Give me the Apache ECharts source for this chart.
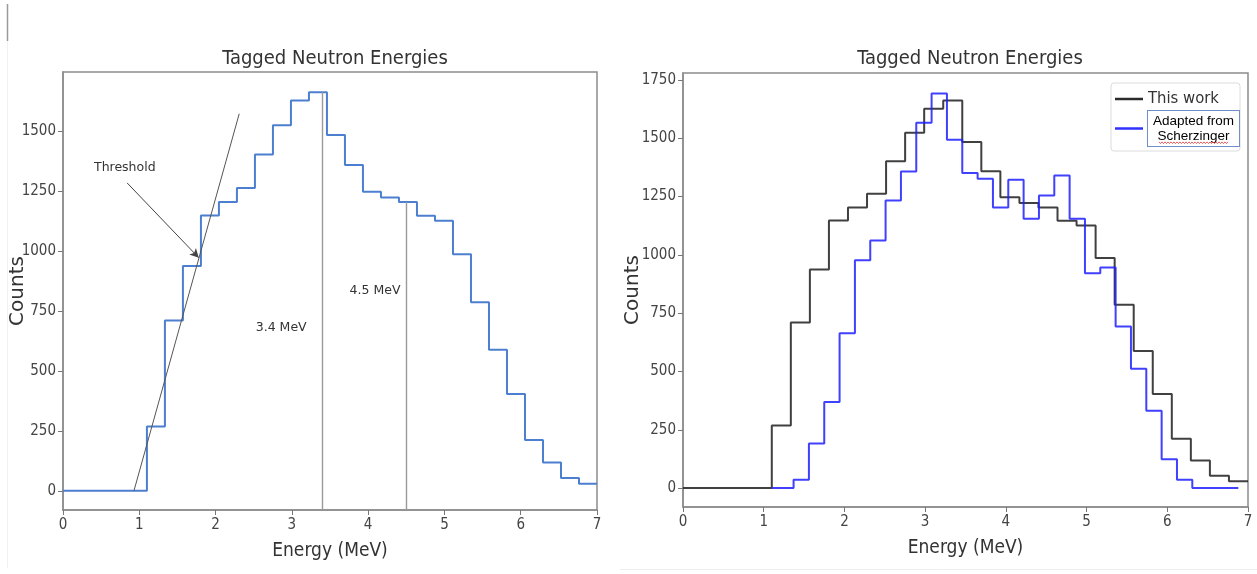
<!DOCTYPE html>
<html>
<head>
<meta charset="utf-8">
<script src="https://cdn.jsdelivr.net/npm/echarts@6/dist/echarts.min.js"></script>
<style>
  html, body { margin: 0; padding: 0; background: #fff; }
  #chart { width: 1257px; height: 574px; }
</style>
</head>
<body>
<div id="chart"></div>
<script>
// "This work" tagged-neutron spectrum: uniform bins starting at 1.1 MeV
const workStart = 1.1;
const workWidth = 0.236;
const workCounts = [268, 710, 937, 1147, 1203, 1262, 1401, 1523, 1626, 1661,
                    1483, 1358, 1246, 1222, 1203, 1146, 1125, 986, 786, 588,
                    403, 212, 118, 53, 29];

// Spectrum adapted from Scherzinger: bin edges (MeV) and counts
const scherEdges = [1.10, 1.37, 1.56, 1.75, 1.94, 2.13, 2.32, 2.51, 2.70, 2.89,
                    3.08, 3.27, 3.46, 3.65, 3.84, 4.03, 4.22, 4.41, 4.60, 4.79,
                    4.98, 5.17, 5.36, 5.55, 5.74, 5.93, 6.12, 6.31, 6.50, 6.69, 6.88];
const scherCounts = [0, 36, 191, 369, 664, 976, 1061, 1233, 1357, 1566,
                     1691, 1493, 1350, 1326, 1203, 1322, 1154, 1254, 1340, 1154,
                     921, 945, 693, 511, 331, 124, 36, 0, 0, 0];

// Axis ticks
const energyTicks = [0, 1, 2, 3, 4, 5, 6, 7];
const countTicksLeft = [0, 250, 500, 750, 1000, 1250, 1500];
const countTicksRight = [0, 250, 500, 750, 1000, 1250, 1500, 1750];

// Annotations on the left panel
const markerEnergies = [3.4, 4.5];
const markerLabels = ['3.4 MeV', '4.5 MeV'];
const markerLabelPos = [[2.86, 679], [4.09, 833]];
const thresholdFit = [[0.93, 0], [2.31, 1571]];
const thresholdArrow = [[0.84, 1283], [1.78, 971]];
const thresholdLabelPos = [0.81, 1346];

const workEdges = workCounts.map((_, i) => +(workStart + i * workWidth).toFixed(4))
  .concat([+(workStart + workCounts.length * workWidth).toFixed(4)]);

// Turn edges + counts into a step outline, optionally led in from zero at x=0
function stepOutline(edges, counts, leadIn) {
  const pts = leadIn ? [[0, 0], [edges[0], 0]] : [];
  counts.forEach((c, i) => {
    pts.push([edges[i], c]);
    pts.push([edges[i + 1], c]);
  });
  return pts;
}

function countAt(edges, counts, x) {
  for (let i = 0; i < counts.length; i++) {
    if (x >= edges[i] && x < edges[i + 1]) return counts[i];
  }
  return 0;
}

const COND = '"DejaVu Sans Condensed", "Liberation Sans Narrow", "DejaVu Sans", sans-serif';
const REG = '"DejaVu Sans", sans-serif';
const yMinL = -80, yMaxL = 1745;
const yMinR = -81, yMaxR = 1779;

function energyAxis(gridIndex) {
  return {
    type: 'value', gridIndex, min: 0, max: 7, interval: 1,
    axisLine: { show: true, onZero: false, lineStyle: { color: '#8c8c8c', width: 1.5 } },
    axisTick: { show: true, length: 5, customValues: energyTicks, lineStyle: { color: '#777', width: 1 } },
    axisLabel: { color: '#444', fontSize: 15, fontFamily: COND, margin: 8,
                 customValues: energyTicks, formatter: v => String(v) },
    splitLine: { show: false },
    name: 'Energy (MeV)', nameLocation: 'middle', nameGap: 32, nameMoveOverlap: false,
    nameTextStyle: { color: '#333', fontSize: 19, fontFamily: COND }
  };
}

function countAxis(gridIndex, min, max, ticks, gap) {
  return {
    type: 'value', gridIndex, min, max,
    axisLine: { show: true, onZero: false, lineStyle: { color: '#8c8c8c', width: 1.5 } },
    axisTick: { show: true, length: 5, customValues: ticks, lineStyle: { color: '#777', width: 1 } },
    axisLabel: { color: '#444', fontSize: 15, fontFamily: COND, margin: 7,
                 customValues: ticks, formatter: v => String(v) },
    splitLine: { show: false },
    name: 'Counts', nameLocation: 'middle', nameGap: gap, nameRotate: 90, nameMoveOverlap: false,
    nameTextStyle: { color: '#333', fontSize: 20, fontFamily: REG }
  };
}

const gridFrame = {
  show: true, borderColor: '#8c8c8c', borderWidth: 1.5, backgroundColor: '#fff',
  containLabel: false, outerBoundsMode: 'none'
};

// Wavy spell-check underline under "Scherzinger"
const wavy = [];
for (let x = 1159; x <= 1229; x += 1.5) {
  wavy.push([x, 142.5 + ((Math.round((x - 1159) / 1.5) % 2) ? 1.1 : -0.6)]);
}

const chart = echarts.init(document.getElementById('chart'), null, { renderer: 'canvas' });

chart.setOption({
  animation: false,
  backgroundColor: '#fff',
  title: [
    { text: 'Tagged Neutron Energies', left: 330, top: 44, textAlign: 'center',
      textStyle: { fontSize: 20, fontWeight: 'normal', color: '#333', fontFamily: COND } },
    { text: 'Tagged Neutron Energies', left: 965, top: 44, textAlign: 'center',
      textStyle: { fontSize: 20, fontWeight: 'normal', color: '#333', fontFamily: COND } }
  ],
  grid: [
    Object.assign({ left: 63, top: 72, width: 534, height: 438 }, gridFrame),
    Object.assign({ left: 683, top: 73, width: 565, height: 434 }, gridFrame)
  ],
  xAxis: [energyAxis(0), energyAxis(1)],
  yAxis: [
    countAxis(0, yMinL, yMaxL, countTicksLeft, 35),
    countAxis(1, yMinR, yMaxR, countTicksRight, 40)
  ],
  legend: {
    left: 1111, top: 83, orient: 'vertical', align: 'left',
    icon: 'rect', itemWidth: 28, itemHeight: 2.5, itemGap: 1,
    padding: [6, 0, 4, 4],
    backgroundColor: '#fff', borderColor: '#dcdcdc', borderWidth: 1, borderRadius: 3,
    data: [
      { name: 'This work',
        textStyle: { fontSize: 16.5, color: '#333', fontFamily: COND, lineHeight: 20 } },
      { name: 'Adapted from Scherzinger',
        textStyle: { borderColor: '#6f90c6', borderWidth: 1, padding: [3, 4, 2, 4], backgroundColor: '#fff',
                     rich: { s: { width: 83, align: 'center', fontSize: 13.5, lineHeight: 15, color: '#000',
                                  fontFamily: '"Liberation Sans", Arial, sans-serif' } } } }
    ],
    formatter: name => name === 'Adapted from Scherzinger' ? '{s|Adapted from}\n{s|Scherzinger}' : name
  },
  series: [
    {
      name: 'Tagged spectrum', type: 'line', xAxisIndex: 0, yAxisIndex: 0,
      data: stepOutline(workEdges, workCounts, true),
      showSymbol: false, symbol: 'none', z: 3,
      lineStyle: { color: '#4c7fd0', width: 2 },
      markLine: {
        silent: true, symbol: ['none', 'none'], label: { show: false },
        data: [
          ...markerEnergies.map(e => [
            { coord: [e, countAt(workEdges, workCounts, e)], lineStyle: { color: '#9a9a9a', width: 1.4, type: 'solid' } },
            { coord: [e, yMinL] }
          ]),
          [
            { coord: thresholdFit[0], lineStyle: { color: '#555', width: 1, type: 'solid' } },
            { coord: thresholdFit[1] }
          ],
          [
            { coord: thresholdArrow[0], symbol: 'none', lineStyle: { color: '#444', width: 1, type: 'solid' } },
            { coord: thresholdArrow[1], symbol: 'arrow', symbolSize: [7, 9] }
          ]
        ]
      },
      markPoint: {
        silent: true, symbol: 'rect', symbolSize: 1,
        itemStyle: { color: 'rgba(0,0,0,0)' },
        label: { show: true, position: 'inside', color: '#333', fontSize: 12.5,
                 fontFamily: REG, formatter: p => p.name },
        data: [
          { name: 'Threshold', coord: thresholdLabelPos },
          ...markerLabels.map((t, i) => ({ name: t, coord: markerLabelPos[i] }))
        ]
      }
    },
    {
      name: 'This work', type: 'line', xAxisIndex: 1, yAxisIndex: 1,
      data: stepOutline(workEdges, workCounts, true),
      showSymbol: false, symbol: 'none', z: 3,
      itemStyle: { color: '#2b2b2b' },
      lineStyle: { color: '#2b2b2b', width: 2, opacity: 0.9 }
    },
    {
      name: 'Adapted from Scherzinger', type: 'line', xAxisIndex: 1, yAxisIndex: 1,
      data: stepOutline(scherEdges, scherCounts, false),
      showSymbol: false, symbol: 'none', z: 4,
      itemStyle: { color: '#3030ff' },
      lineStyle: { color: '#1f1fff', width: 2, opacity: 0.85 }
    }
  ],
  graphic: [
    { type: 'line', shape: { x1: 7.5, y1: 4, x2: 7.5, y2: 41 }, style: { stroke: '#9a9a9a', lineWidth: 1.5 }, silent: true },
    { type: 'line', shape: { x1: 7.5, y1: 41, x2: 7.5, y2: 568 }, style: { stroke: '#f1f1f1', lineWidth: 1 }, silent: true },
    { type: 'line', shape: { x1: 620, y1: 569.5, x2: 1257, y2: 569.5 }, style: { stroke: '#eeeeee', lineWidth: 1 }, silent: true },
    { type: 'polyline', shape: { points: wavy }, style: { stroke: '#e23a3a', lineWidth: 0.8, fill: null }, silent: true, z: 100 }
  ]
});
</script>
</body>
</html>
